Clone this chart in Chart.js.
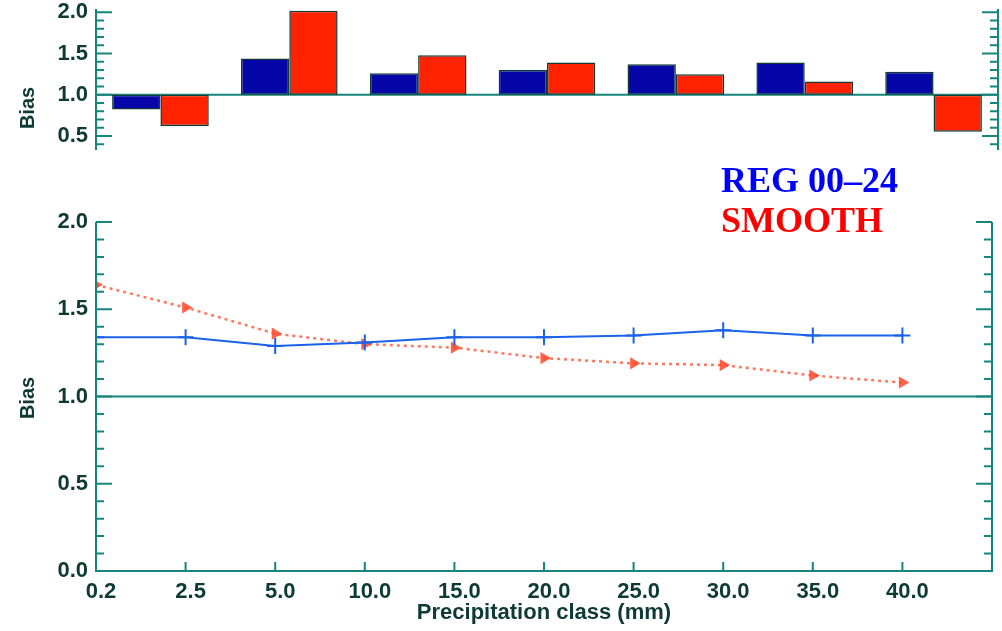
<!DOCTYPE html>
<html>
<head>
<meta charset="utf-8">
<script src="https://cdn.jsdelivr.net/npm/chart.js@4/dist/chart.umd.min.js"></script>
<style>
  html, body { margin: 0; padding: 0; background: #fff; }
  #wrap { position: relative; width: 1002px; height: 631px; overflow: hidden; }
  #wrap canvas { position: absolute; left: 0; }
  #top { top: 0; }
  #bottom { top: 160px; }
  .key { position: absolute; left: 721px; font: bold 36px "Liberation Serif", "Times New Roman", serif; line-height: 36px; white-space: nowrap; }
</style>
</head>
<body>
<div id="wrap">
  <canvas id="top" width="1002" height="160"></canvas>
  <canvas id="bottom" width="1002" height="471"></canvas>
  <div class="key" style="top:162px;color:#0000ff">REG 00–24</div>
  <div class="key" style="top:202px;color:#ff0000">SMOOTH</div>
</div>
<script>
// upper panel: bias per group, bars start at 1.0
const barGroups = ["1", "2", "3", "4", "5", "6", "7"];
const regBars = [0.82, 1.44, 1.26, 1.30, 1.37, 1.39, 1.28];
const smoothBars = [0.62, 2.02, 1.48, 1.39, 1.25, 1.16, 0.55];

// lower panel: bias by precipitation class
const precipClasses = ["0.2", "2.5", "5.0", "10.0", "15.0", "20.0", "25.0", "30.0", "35.0", "40.0"];
const regBias = [1.34, 1.34, 1.29, 1.31, 1.34, 1.34, 1.35, 1.38, 1.35, 1.35];
const smoothBias = [1.64, 1.51, 1.36, 1.30, 1.28, 1.22, 1.19, 1.18, 1.12, 1.08];

const biasTicks = [0, 0.5, 1.0, 1.5, 2.0];

const axisColor = "#16857b";
const labelColor = "#0e3a36";
const tickFont = { family: "'Liberation Sans', Arial, sans-serif", size: 22, weight: "bold" };

// IDL-like frame: left/right axes with inward ticks, line at bias 1
const frame = {
  id: "frame",
  beforeDatasetsDraw(chart) {
    const { ctx, chartArea: a, scales: { y } } = chart;
    const y1 = y.getPixelForValue(1);
    ctx.save();
    ctx.strokeStyle = axisColor;
    ctx.lineWidth = 2;
    ctx.beginPath();
    ctx.moveTo(a.left, y1);
    ctx.lineTo(a.right, y1);
    ctx.stroke();
    ctx.restore();
  },
  afterDraw(chart, args, opts) {
    const { ctx, chartArea: a, scales: { x, y } } = chart;
    ctx.save();
    ctx.strokeStyle = axisColor;
    ctx.lineWidth = 2;
    ctx.beginPath();
    ctx.moveTo(a.left, a.top);
    ctx.lineTo(a.left, a.bottom);
    ctx.moveTo(a.right, a.top);
    ctx.lineTo(a.right, a.bottom);
    if (opts.bottom) {
      ctx.moveTo(a.left - 1, a.bottom);
      ctx.lineTo(a.right + 1, a.bottom);
    }
    const k0 = Math.ceil(y.min * 10 - 1e-9);
    const k1 = Math.floor(y.max * 10 + 1e-9);
    for (let k = k0; k <= k1; k++) {
      const py = y.getPixelForValue(k / 10);
      const len = k % 5 === 0 ? 16 : 8;
      ctx.moveTo(a.left, py);
      ctx.lineTo(a.left + len, py);
      ctx.moveTo(a.right, py);
      ctx.lineTo(a.right - len, py);
    }
    if (opts.bottom) {
      for (let i = 1; i < precipClasses.length; i++) {
        const px = x.getPixelForValue(i);
        ctx.moveTo(px, a.bottom);
        ctx.lineTo(px, a.bottom - 9);
      }
    }
    ctx.stroke();
    if (opts.title) {
      ctx.fillStyle = labelColor;
      ctx.font = "bold 20px 'Liberation Sans', Arial, sans-serif";
      ctx.translate(28, opts.titleY);
      ctx.rotate(-Math.PI / 2);
      ctx.textAlign = "center";
      ctx.textBaseline = "middle";
      ctx.fillText(opts.title, 0, 0);
    }
    ctx.restore();
  }
};

function fixLeft(s) {
  s.width = 96;
  s.paddingTop = 0;
  s.paddingBottom = 0;
}

new Chart(document.getElementById("top"), {
  type: "bar",
  data: {
    labels: barGroups,
    datasets: [
      {
        label: "REG 00–24",
        data: regBars.map((v) => [1, v]),
        backgroundColor: "#0606a8",
        borderColor: "#0d3a36",
        borderWidth: 1.5,
        borderSkipped: false
      },
      {
        label: "SMOOTH",
        data: smoothBars.map((v) => [1, v]),
        backgroundColor: "#ff2200",
        borderColor: "#0d3a36",
        borderWidth: 1.5,
        borderSkipped: false
      }
    ]
  },
  options: {
    responsive: false,
    animation: false,
    layout: { padding: { top: 9, right: 4, bottom: 10, left: 0 } },
    datasets: { bar: { barPercentage: 1, categoryPercentage: 0.75 } },
    scales: {
      x: { display: false },
      y: {
        min: 0.33,
        max: 2.04,
        afterFit: fixLeft,
        border: { display: false },
        grid: { display: false, drawTicks: false },
        ticks: {
          stepSize: 0.5,
          includeBounds: false,
          padding: 8,
          color: labelColor,
          font: tickFont,
          callback: (v) => v.toFixed(1)
        }
      }
    },
    plugins: {
      legend: { display: false },
      tooltip: { enabled: false },
      frame: { bottom: false, title: "Bias", titleY: 108 }
    }
  },
  plugins: [frame]
});

new Chart(document.getElementById("bottom"), {
  type: "line",
  data: {
    datasets: [
      {
        label: "REG 00–24",
        data: regBias.map((v, i) => ({ x: i, y: v })),
        borderColor: "#1a62ec",
        borderWidth: 2,
        pointStyle: "cross",
        pointRadius: 8,
        pointBorderWidth: 2,
        pointBorderColor: "#1a62ec",
        tension: 0
      },
      {
        label: "SMOOTH",
        data: smoothBias.map((v, i) => ({ x: i, y: v })),
        borderColor: "rgba(255, 85, 55, 0.8)",
        borderWidth: 2.5,
        borderDash: [3, 4],
        pointStyle: "triangle",
        pointRotation: 90,
        pointRadius: 7,
        pointBorderWidth: 0,
        pointBackgroundColor: "rgba(255, 70, 40, 0.85)",
        tension: 0
      }
    ]
  },
  options: {
    responsive: false,
    animation: false,
    layout: { padding: { top: 62, right: 4, bottom: 0, left: 0 } },
    scales: {
      x: {
        type: "linear",
        min: 0,
        max: precipClasses.length,
        afterFit(s) {
          s.height = 60;
          s.paddingLeft = 0;
          s.paddingRight = 0;
        },
        border: { display: false },
        grid: { display: false, drawTicks: false },
        ticks: {
          stepSize: 1,
          autoSkip: false,
          maxRotation: 0,
          padding: 8,
          labelOffset: 5,
          color: labelColor,
          font: tickFont,
          callback: (v) => precipClasses[v] ?? ""
        },
        title: {
          display: true,
          text: "Precipitation class (mm)",
          color: labelColor,
          font: { family: "'Liberation Sans', Arial, sans-serif", size: 22, weight: "bold" },
          padding: { top: 0, bottom: 5 }
        }
      },
      y: {
        min: 0,
        max: 2,
        afterFit: fixLeft,
        border: { display: false },
        grid: { display: false, drawTicks: false },
        afterBuildTicks(s) {
          s.ticks = biasTicks.map((v) => ({ value: v }));
        },
        ticks: {
          padding: 8,
          color: labelColor,
          font: tickFont,
          callback: (v) => v.toFixed(1)
        }
      }
    },
    plugins: {
      legend: { display: false },
      tooltip: { enabled: false },
      frame: { bottom: true, title: "Bias", titleY: 238 }
    }
  },
  plugins: [frame]
});
</script>
</body>
</html>
